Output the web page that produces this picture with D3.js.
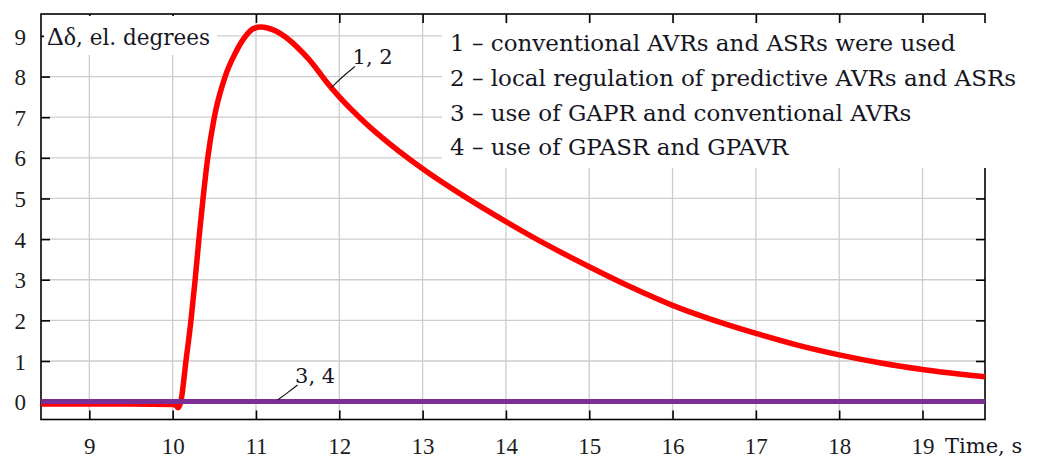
<!DOCTYPE html>
<html>
<head>
<meta charset="utf-8">
<script src="https://cdn.jsdelivr.net/npm/d3@7"></script>
<style>
  html, body { margin: 0; padding: 0; background: #fff; }
  svg { display: block; }
</style>
</head>
<body>
<svg id="chart" width="1038" height="459"></svg>
<script>
// Rotor angle deviation Δδ (el. degrees) after the disturbance at t ≈ 10 s.
// Curves 1 and 2 coincide (conventional / local predictive regulators).
const timeConventional = [8.42, 9.0, 9.5, 10.0, 10.04, 10.065, 10.10, 10.16, 10.22, 10.27,
  10.32, 10.37, 10.42, 10.50, 10.63, 10.75, 10.87, 10.96, 11.05, 11.15, 11.25, 11.35,
  11.45, 11.55, 11.65, 11.75, 11.85, 12.0, 12.24, 12.5, 13.0, 13.5, 14.0, 14.5, 15.0,
  15.5, 16.0, 16.5, 17.0, 17.5, 18.0, 18.5, 19.0, 19.75];
const deltaConventional = [-0.06, -0.06, -0.06, -0.07, -0.09, -0.15, 0.02, 1.0, 2.0, 3.0,
  4.1, 5.1, 5.98, 7.0, 8.0, 8.57, 8.98, 9.17, 9.22, 9.19, 9.11, 8.98,
  8.81, 8.61, 8.39, 8.13, 7.86, 7.5, 7.0, 6.52, 5.73, 5.05, 4.43, 3.85, 3.32,
  2.82, 2.37, 2.0, 1.68, 1.39, 1.15, 0.95, 0.79, 0.61];

// Curves 3 and 4 coincide (group regulators GAPR / GPASR + GPAVR): no deviation.
const timeGroup = [8.42, 19.75];
const deltaGroup = [0, 0];

const xTicks = [9, 10, 11, 12, 13, 14, 15, 16, 17, 18, 19];
const yTicks = [0, 1, 2, 3, 4, 5, 6, 7, 8, 9];

const legendItems = [
  "1 \u2013 conventional AVRs and ASRs were used",
  "2 \u2013 local regulation of predictive AVRs and ASRs",
  "3 \u2013 use of GAPR and conventional AVRs",
  "4 \u2013 use of GPASR and GPAVR"
];

// Curve labels with leader lines, in data coordinates
const curveLabels = [
  { text: "1, 2", t: 12.16, v: 8.31, leader: [[12.19, 8.25], [12.05, 8.02], [11.90, 7.72]] },
  { text: "3, 4", t: 11.47, v: 0.46, leader: [[11.50, 0.41], [11.38, 0.22], [11.26, 0.04]] }
];

const svg = d3.select("#chart");
const plotLeft = 41, plotRight = 985, plotTop = 14, plotBottom = 419.5;

const x = d3.scaleLinear().domain([8.42, 19.75]).range([plotLeft, plotRight]);
const y = d3.scaleLinear().domain([-0.44, 9.54]).range([plotBottom, plotTop]);

const serif = "'Liberation Serif', 'Times New Roman', serif";
const bookSerif = "'DejaVu Serif', serif";
const ink = "#15151f";

// grid
const grid = svg.append("g").attr("stroke", "#cdcdcd").attr("stroke-width", 1.3);
grid.selectAll("line.vx").data(xTicks).join("line")
  .attr("x1", d => x(d)).attr("x2", d => x(d))
  .attr("y1", plotTop).attr("y2", plotBottom);
grid.selectAll("line.hy").data(yTicks).join("line")
  .attr("x1", plotLeft).attr("x2", plotRight)
  .attr("y1", d => y(d)).attr("y2", d => y(d));

// inward ticks on all four sides
function styleAxis(g) {
  g.select(".domain").remove();
  g.selectAll(".tick line").attr("stroke", "#000").attr("stroke-width", 1.6);
  g.selectAll("text").attr("font-family", serif).attr("font-size", 23).attr("fill", "#1c1c1c");
}
svg.append("g").attr("transform", `translate(0,${plotBottom})`)
  .call(d3.axisBottom(x).tickValues(xTicks).tickSize(-9).tickSizeOuter(0).tickFormat(d3.format("d")))
  .call(styleAxis)
  .call(g => g.selectAll("text").attr("y", 34).attr("dy", 0));
svg.append("g").attr("transform", `translate(0,${plotTop})`)
  .call(d3.axisTop(x).tickValues(xTicks).tickSize(-9).tickSizeOuter(0).tickFormat(""))
  .call(styleAxis);
svg.append("g").attr("transform", `translate(${plotLeft},0)`)
  .call(d3.axisLeft(y).tickValues(yTicks).tickSize(-9).tickSizeOuter(0).tickPadding(15).tickFormat(d3.format("d")))
  .call(styleAxis)
  .call(g => g.selectAll("text").attr("dy", "0.35em"));
svg.append("g").attr("transform", `translate(${plotRight},0)`)
  .call(d3.axisRight(y).tickValues(yTicks).tickSize(-9).tickSizeOuter(0).tickFormat(""))
  .call(styleAxis);

// frame
svg.append("rect")
  .attr("x", plotLeft).attr("y", plotTop)
  .attr("width", plotRight - plotLeft).attr("height", plotBottom - plotTop)
  .attr("fill", "none").attr("stroke", "#000").attr("stroke-width", 1.6);

// white panels behind the axis title and the legend
svg.append("rect").attr("x", 44).attr("y", 16).attr("width", 173).attr("height", 39).attr("fill", "#fff");
svg.append("rect").attr("x", 442).attr("y", 23).attr("width", 596).attr("height", 145).attr("fill", "#fff");

// curves
const line = d3.line().x(d => x(d[0])).y(d => y(d[1])).curve(d3.curveMonotoneX);

svg.append("path")
  .datum(d3.zip(timeConventional, deltaConventional))
  .attr("d", line)
  .attr("fill", "none").attr("stroke", "#ff0000").attr("stroke-width", 5.5)
  .attr("stroke-linejoin", "round").attr("stroke-linecap", "butt");

svg.append("path")
  .datum(d3.zip(timeGroup, deltaGroup))
  .attr("d", line)
  .attr("fill", "none").attr("stroke", "#7b2f96").attr("stroke-width", 5);

// curve labels and leaders
const leader = d3.line().x(d => x(d[0])).y(d => y(d[1])).curve(d3.curveBasis);
curveLabels.forEach(c => {
  svg.append("path").attr("d", leader(c.leader))
    .attr("fill", "none").attr("stroke", "#111").attr("stroke-width", 1.1);
  svg.append("text").attr("x", x(c.t)).attr("y", y(c.v))
    .attr("font-family", bookSerif).attr("font-size", 21).attr("fill", ink)
    .text(c.text);
});

// axis titles
const yTitle = svg.append("text").attr("x", 47).attr("y", 45).attr("fill", ink);
yTitle.append("tspan").attr("font-family", serif).attr("font-size", 26).text("\u0394\u03b4");
yTitle.append("tspan").attr("font-family", bookSerif).attr("font-size", 21.5).text(", el. degrees");

svg.append("text").attr("x", 945).attr("y", 453)
  .attr("font-family", bookSerif).attr("font-size", 21).attr("fill", ink)
  .text("Time, s");

// legend
svg.append("g").selectAll("text").data(legendItems).join("text")
  .attr("x", 450).attr("y", (d, i) => 51 + i * 34.8)
  .attr("font-family", bookSerif).attr("font-size", 23).attr("fill", ink)
  .text(d => d);
</script>
</body>
</html>
